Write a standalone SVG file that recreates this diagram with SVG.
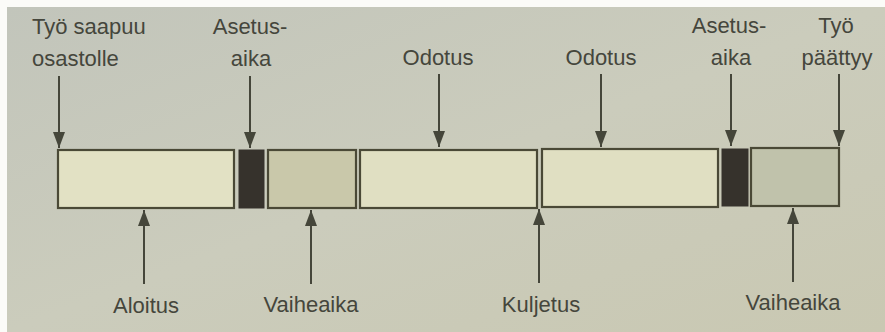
<svg xmlns="http://www.w3.org/2000/svg" width="885" height="332" viewBox="0 0 885 332">
<defs>
<style>
.t{font-family:"Liberation Sans","DejaVu Sans",sans-serif;font-size:22px;fill:#45463c;text-anchor:middle}
.box{stroke:#4a4936;stroke-width:2.2}
.blk{fill:#36322c;stroke:#36322c;stroke-width:1}
.ln{stroke:#45463a;stroke-width:2;fill:none;marker-end:url(#ah)}
</style>
<marker id="ah" viewBox="0 0 16 14" refX="16" refY="7" markerWidth="16" markerHeight="14" markerUnits="userSpaceOnUse" orient="auto">
<path d="M0,1 L16,7 L0,13 Z" fill="#45463a"/>
</marker>
<linearGradient id="bg" x1="0" y1="0" x2="1" y2="1">
<stop offset="0" stop-color="#c2c5bb"/>
<stop offset="0.5" stop-color="#cbccbc"/>
<stop offset="1" stop-color="#c9c8b2"/>
</linearGradient>
</defs>
<rect x="0" y="0" width="885" height="332" fill="#fbfbf8"/>
<rect x="7" y="7" width="878" height="325" fill="url(#bg)"/>

<g id="n1"><rect class="box" x="58" y="150" width="176" height="58" fill="#e2e1c4"/></g>
<g id="s1"><rect class="blk" x="239" y="150" width="25" height="58"/></g>
<g id="n2"><rect class="box" x="268" y="150" width="88" height="58" fill="#c9c8aa"/></g>
<g id="n3"><rect class="box" x="360" y="150" width="177" height="58" fill="#e0dfc2"/></g>
<g id="n4"><rect class="box" x="542" y="149" width="176" height="58" fill="#e0dfc2"/></g>
<g id="s2"><rect class="blk" x="722" y="149" width="26" height="57"/></g>
<g id="n5"><rect class="box" x="751" y="148" width="88" height="58" fill="#c0c2ab"/></g>

<g id="connectors">
<line class="ln" x1="59" y1="76" x2="59" y2="148"/>
<line class="ln" x1="250" y1="76" x2="250" y2="148"/>
<line class="ln" x1="439" y1="74" x2="439" y2="147"/>
<line class="ln" x1="601" y1="74" x2="601" y2="147"/>
<line class="ln" x1="731" y1="74" x2="731" y2="146"/>
<line class="ln" x1="839" y1="74" x2="839" y2="146"/>
<line class="ln" x1="144" y1="284" x2="144" y2="210"/>
<line class="ln" x1="311" y1="284" x2="311" y2="210"/>
<line class="ln" x1="539" y1="283" x2="539" y2="209"/>
<line class="ln" x1="793" y1="282" x2="793" y2="208"/>
</g>

<g id="labels">
<text class="t" x="32" y="34" style="text-anchor:start">Työ saapuu</text>
<text class="t" x="32" y="66" style="text-anchor:start">osastolle</text>
<text class="t" x="250" y="34">Asetus-</text>
<text class="t" x="251" y="66">aika</text>
<text class="t" x="438" y="65">Odotus</text>
<text class="t" x="601" y="65">Odotus</text>
<text class="t" x="729" y="33">Asetus-</text>
<text class="t" x="731" y="65">aika</text>
<text class="t" x="836" y="33">Työ</text>
<text class="t" x="837" y="65">päättyy</text>
<text class="t" x="146" y="313">Aloitus</text>
<text class="t" x="311" y="312">Vaiheaika</text>
<text class="t" x="541" y="312">Kuljetus</text>
<text class="t" x="793" y="310">Vaiheaika</text>
</g>
</svg>
